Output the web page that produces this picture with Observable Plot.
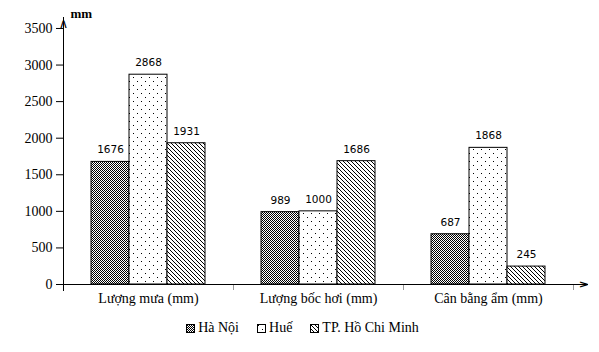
<!DOCTYPE html>
<html>
<head>
<meta charset="utf-8">
<script src="https://cdn.jsdelivr.net/npm/d3@7"></script>
<script src="https://cdn.jsdelivr.net/npm/@observablehq/plot@0.6"></script>
<style>
  body { margin: 0; background: #fff; }
  #legend { display: flex; justify-content: center; align-items: center; gap: 18px;
            font-family: "Liberation Serif", serif; font-size: 14px; color: #000;
            padding-top: 8px; padding-left: 6px; }
  #legend .item { display: flex; align-items: center; gap: 3px; }
  #legend svg { display: block; }
</style>
</head>
<body>
<svg width="0" height="0" style="position:absolute">
  <defs>
    <pattern id="p-hanoi" width="2" height="2" patternUnits="userSpaceOnUse">
      <rect width="2" height="2" fill="#fff"/>
      <rect x="0" y="0" width="1" height="1" fill="#000"/>
      <rect x="1" y="1" width="1" height="1" fill="#000"/>
    </pattern>
    <pattern id="p-hue" width="8" height="8" patternUnits="userSpaceOnUse">
      <rect width="8" height="8" fill="#fff"/>
      <rect x="1" y="1" width="1" height="1" fill="#000"/>
      <rect x="5" y="5" width="1" height="1" fill="#000"/>
    </pattern>
    <pattern id="p-hcm" width="4" height="4" patternUnits="userSpaceOnUse">
      <rect width="4" height="4" fill="#fff"/>
      <path d="M-1,-1 L5,5 M-1,3 L1,5 M3,-1 L5,1" stroke="#000" stroke-width="1"/>
    </pattern>
  </defs>
</svg>
<div id="chart"></div>
<div id="legend"></div>
<script>
const groups = ["Lượng mưa (mm)", "Lượng bốc hơi (mm)", "Cân bằng ẩm (mm)"];
const cities = ["Hà Nội", "Huế", "TP. Hồ Chi Minh"];
const haNoi = [1676, 989, 687];
const hue = [2868, 1000, 1868];
const hcm = [1931, 1686, 245];
const yTicks = [0, 500, 1000, 1500, 2000, 2500, 3000, 3500];
const yUnit = "mm";
const arrowHead = "∧";
const patterns = ["url(#p-hanoi)", "url(#p-hue)", "url(#p-hcm)"];

const series = [haNoi, hue, hcm];
const data = [];
groups.forEach((g, i) => cities.forEach((c, j) => data.push({group: g, city: c, value: series[j][i]})));

const firstGroup = [{group: groups[0]}];
const lastGroup = [{group: groups[groups.length - 1]}];

const chart = Plot.plot({
  width: 599,
  height: 312,
  marginLeft: 63,
  marginRight: 26,
  marginTop: 17,
  marginBottom: 28,
  style: {fontFamily: "Liberation Serif, serif", fontSize: "14px", color: "#000", background: "#fff"},
  fx: {domain: groups, padding: 0, label: null},
  x: {domain: cities, paddingInner: 0, paddingOuter: 0.737, round: false, axis: null},
  y: {domain: [0, 3650], label: null},
  color: {domain: cities, range: patterns},
  marks: [
    Plot.axisY(yTicks, {tickSize: 7, tickPadding: 4, label: null, tickFormat: d => String(d),
      fontSize: 14, fontFamily: "Liberation Serif, serif"}),
    Plot.axisFx({anchor: "bottom", tickSize: 0, tickPadding: 9, label: null,
      fontSize: 14, fontFamily: "Liberation Serif, serif"}),
    Plot.barY(data, {fx: "group", x: "city", y: "value", fill: "city", stroke: "#000", strokeWidth: 1}),
    Plot.text(data, {fx: "group", x: "city", y: "value", text: d => String(d.value), dy: -12,
      fontFamily: "DejaVu Sans, sans-serif", fontSize: 10.5, fill: "#000"}),
    Plot.frame({anchor: "right", insetTop: 267, insetBottom: -5, stroke: "#999"}),
    Plot.ruleY([0], {stroke: "#000", strokeWidth: 1, insetRight: -15}),
    Plot.frame({anchor: "left", facetAnchor: "left", insetBottom: -6, stroke: "#000"}),
    Plot.text(firstGroup, {fx: "group", frameAnchor: "top-left", text: () => arrowHead, dy: 6,
      textAnchor: "middle", lineAnchor: "middle",
      fontFamily: "DejaVu Sans, sans-serif", fontSize: 13, fill: "#000"}),
    Plot.text(lastGroup, {fx: "group", frameAnchor: "bottom-right", text: () => arrowHead, dx: 11, rotate: 90,
      textAnchor: "middle", lineAnchor: "middle",
      fontFamily: "DejaVu Sans, sans-serif", fontSize: 13, fill: "#000"}),
    Plot.text(firstGroup, {fx: "group", frameAnchor: "top-left", text: () => yUnit, dx: 7, dy: -9,
      fontWeight: "bold", fontFamily: "Liberation Serif, serif", fontSize: 13, fill: "#000"})
  ]
});
document.getElementById("chart").appendChild(chart);

const legend = document.getElementById("legend");
cities.forEach((c, j) => {
  const item = document.createElement("div");
  item.className = "item";
  item.innerHTML = `<svg width="9" height="9"><rect x="0.5" y="0.5" width="8" height="8" fill="${patterns[j]}" stroke="#000"/></svg><span>${c}</span>`;
  legend.appendChild(item);
});
</script>
</body>
</html>
